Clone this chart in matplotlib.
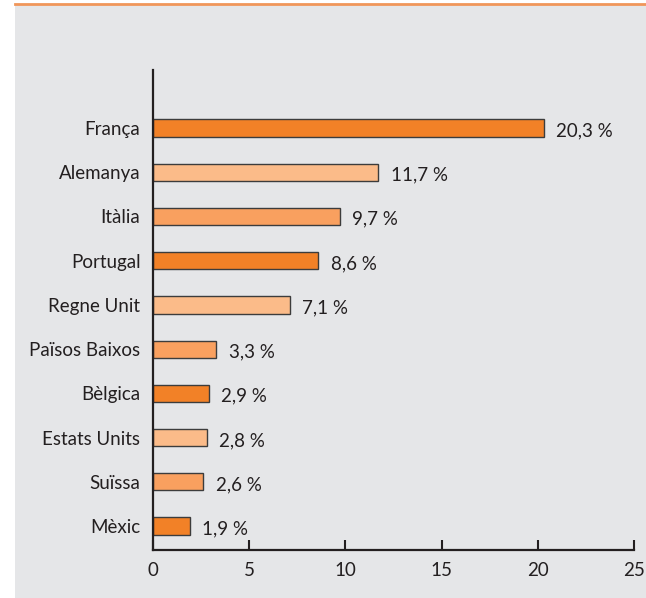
import matplotlib.pyplot as plt
from matplotlib.patches import Rectangle

countries = ['França', 'Alemanya', 'Itàlia', 'Portugal', 'Regne Unit',
             'Països Baixos', 'Bèlgica', 'Estats Units', 'Suïssa', 'Mèxic']
shares = [20.3, 11.7, 9.7, 8.6, 7.1, 3.3, 2.9, 2.8, 2.6, 1.9]
share_labels = ['20,3 %', '11,7 %', '9,7 %', '8,6 %', '7,1 %',
                '3,3 %', '2,9 %', '2,8 %', '2,6 %', '1,9 %']

dark = '#f28127'
light = '#fbbb89'
mid = '#f9a05f'
bar_colors = [dark, light, mid] * 3 + [dark]

plt.rcParams['font.family'] = ['Lato', 'DejaVu Sans']
plt.rcParams['font.size'] = 13.5

fig = plt.figure(figsize=(6.46, 5.98), dpi=100)
fig.patch.set_facecolor('white')

# grey panel with orange rule on top, on a background axes
bg = fig.add_axes([0, 0, 1, 1], zorder=-1)
bg.set_axis_off()
bg.set_xlim(0, 646)
bg.set_ylim(598, 0)
bg.add_patch(Rectangle((15, 4), 631, 594, facecolor='#e5e6e8', edgecolor='none'))
bg.plot([15, 646], [4, 4], color='#f0965a', linewidth=2)

ax = fig.add_axes([153 / 646, 1 - 550 / 598, (634 - 153) / 646, (550 - 70) / 598])
ax.set_facecolor('none')

ypos = list(range(len(countries) - 1, -1, -1))
ax.barh(ypos, shares, height=0.39, color=bar_colors, edgecolor='#3c3c3c', linewidth=1)

for y, v, lab in zip(ypos, shares, share_labels):
    ax.annotate(lab, (v, y), xytext=(9, -2), textcoords='offset points',
                va='center', ha='left', color='#231f20')

ax.set_yticks(ypos)
ax.set_yticklabels(countries, color='#231f20')
ax.set_xlim(0, 25)
ax.set_ylim(-0.54, 10.31)
ax.set_xticks([0, 5, 10, 15, 20, 25])
ax.tick_params(axis='y', length=0, pad=9)
ax.tick_params(axis='x', direction='in', length=7, width=1.5, color='#231f20',
               labelcolor='#231f20', pad=9)

for s in ['top', 'right']:
    ax.spines[s].set_visible(False)
for s in ['left', 'bottom']:
    ax.spines[s].set_linewidth(1.6)
    ax.spines[s].set_color('#231f20')

fig.savefig('out.png', dpi=100)
